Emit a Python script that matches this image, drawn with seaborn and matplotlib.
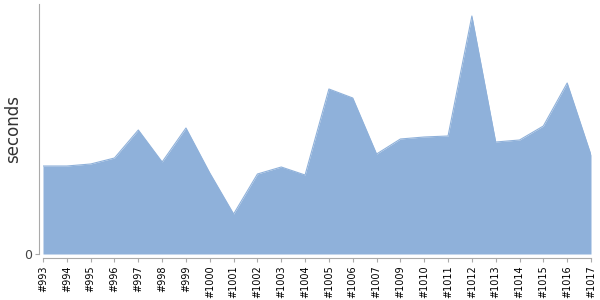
import matplotlib
matplotlib.use("Agg")
import matplotlib.pyplot as plt
import seaborn as sns
import numpy as np
import pandas as pd

builds = ["#993", "#994", "#995", "#996", "#997", "#998", "#999", "#1000", "#1001",
          "#1002", "#1003", "#1004", "#1005", "#1006", "#1007", "#1009", "#1010",
          "#1011", "#1012", "#1013", "#1014", "#1015", "#1016", "#1017"]
seconds = [88, 88, 90, 96, 124, 92, 126, 81, 40, 80, 87, 79, 165, 156, 100,
           115, 117, 118, 238, 112, 114, 128, 171, 99]

df = pd.DataFrame({"build": builds, "seconds": seconds})
df["pos"] = np.arange(len(df))

sns.set_style("white")
plt.rcParams['font.family'] = ['DejaVu Sans']

fig = plt.figure(figsize=(6, 3), dpi=100)
ax = fig.add_axes([43 / 600, 46 / 300, 548 / 600, 250 / 300])

color = "#8fb1da"
ax.fill_between(df["pos"], 0, df["seconds"], color=color, linewidth=0)
sns.lineplot(data=df, x="pos", y="seconds", ax=ax, color=color, linewidth=0.8)

ax.set_xlim(0, len(df) - 1)
ax.set_ylim(0, 250)
ax.set_xticks(df["pos"].tolist())
ax.set_xticklabels(df["build"].tolist())
ax.set_yticks([0])
ax.set_yticklabels(["0"])
ax.set_xlabel("")
ax.set_ylabel("seconds", fontsize=12, color="#333333")
ax.yaxis.set_label_coords(-21 / 548, 0.5)

for side in ["top", "right"]:
    ax.spines[side].set_visible(False)
for side in ["left", "bottom"]:
    ax.spines[side].set_color("#aaaaaa")
    ax.spines[side].set_linewidth(0.8)
    ax.spines[side].set_position(("outward", 3))
ax.tick_params(axis="both", which="both", length=3, width=0.8, color="#aaaaaa",
               direction="out", bottom=True, left=True, pad=2)
ax.tick_params(axis="x", labelrotation=90, labelsize=7, labelcolor="black")
ax.tick_params(axis="y", labelsize=9, labelcolor="#444444")

fig.savefig("out.png", dpi=100)
